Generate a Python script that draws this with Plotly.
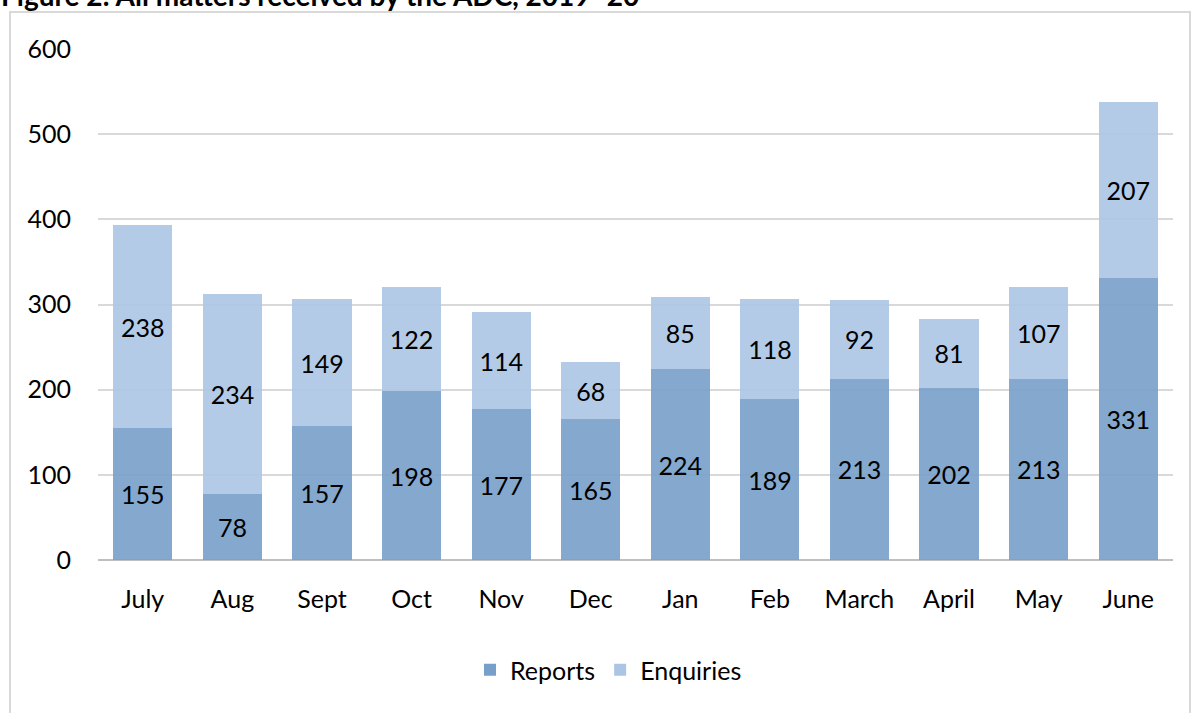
import plotly.graph_objects as go

months = ["July", "Aug", "Sept", "Oct", "Nov", "Dec", "Jan", "Feb", "March", "April", "May", "June"]
reports = [155, 78, 157, 198, 177, 165, 224, 189, 213, 202, 213, 331]
enquiries = [238, 234, 149, 122, 114, 68, 85, 118, 92, 81, 107, 207]

W, H = 1195, 713
L, R, T, B = 98, 22, 49, 153
pw, ph = W - L - R, H - T - B
FONT = "Lato, 'Open Sans', sans-serif"

fig = go.Figure()
fig.add_trace(go.Bar(
    x=months, y=reports, name="Reports",
    marker=dict(color="rgb(119,159,201)", opacity=0.9, line=dict(width=0)),
    text=reports, textposition="inside", insidetextanchor="middle",
    textfont=dict(size=25, color="black", family=FONT),
))
fig.add_trace(go.Bar(
    x=months, y=enquiries, name="Enquiries",
    marker=dict(color="rgb(172,197,228)", opacity=0.9, line=dict(width=0)),
    text=enquiries, textposition="inside", insidetextanchor="middle",
    textfont=dict(size=25, color="black", family=FONT),
))

def px_x(p):
    return (p - L) / pw

def px_y(p):
    return (H - B - p) / ph

fig.update_layout(
    width=W, height=H,
    barmode="stack", bargap=0.34,
    margin=dict(l=L, r=R, t=T, b=B, pad=0),
    paper_bgcolor="white", plot_bgcolor="white",
    font=dict(family=FONT, size=25, color="black"),
    uniformtext=dict(minsize=25, mode="show"),
    xaxis=dict(showgrid=False, showline=False, ticks="", ticklen=0,
               tickfont=dict(size=25), ticklabelstandoff=22, automargin=False),
    yaxis=dict(range=[0, 600], dtick=100, showgrid=True, gridcolor="#D9D9D9",
               gridwidth=1.5, zeroline=True, zerolinecolor="#BFBFBF", zerolinewidth=2,
               showline=False, ticks="", tickfont=dict(size=25), ticklabelstandoff=26,
               automargin=False),
    legend=dict(orientation="h", x=px_x(470), xanchor="left", y=px_y(670), yanchor="middle",
                font=dict(size=25), itemwidth=30, traceorder="normal", tracegroupgap=0),
    showlegend=True,
)

# outer border
fig.add_shape(type="rect", xref="paper", yref="paper",
              x0=px_x(10), x1=px_x(1190), y0=px_y(760), y1=px_y(12),
              line=dict(color="#D9D9D9", width=2), fillcolor="rgba(0,0,0,0)", layer="below")

# title (partially cut off at top of page, as in the reference)
fig.add_annotation(text="<b>Figure 2: All matters received by the ADC, 2019–20</b>",
                   xref="paper", yref="paper", x=px_x(-1), y=px_y(14),
                   xanchor="left", yanchor="bottom", showarrow=False,
                   font=dict(size=28, family=FONT, color="black"))

fig.write_html("out.html", config={"displayModeBar": False},
               post_script="document.body.style.margin='0';")
